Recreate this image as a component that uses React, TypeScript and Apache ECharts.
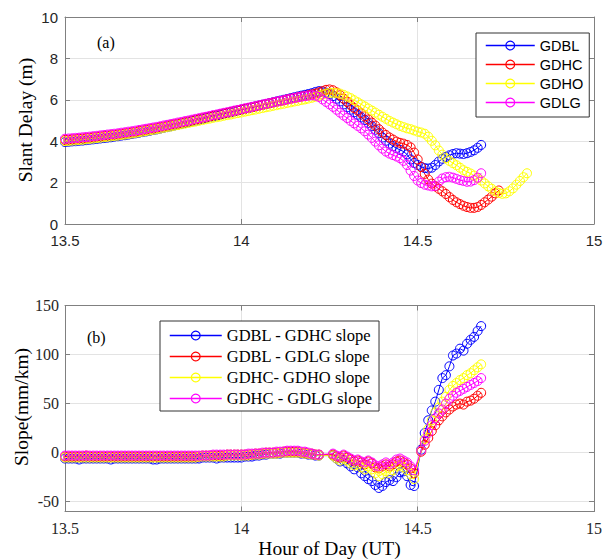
import React, { useEffect, useRef } from 'react';
import * as echarts from 'echarts';

// sampling grid (hours, UT), 0.01 h steps from 13.50
const HOURS: number[] = Array.from({ length: 132 }, (_, i) => Math.round((13.5 + i * 0.01) * 100) / 100);

const X_MIN = 13.5;
const X_MAX = 15;
const X_STEP = 0.5;

// ---------- (a) Slant delay (m) ----------
const TOP_NAMES = ['GDBL', 'GDHC', 'GDHO', 'GDLG'];

const GDBL = [
  3.96, 3.97, 3.99, 4.0, 4.02, 4.03, 4.05, 4.07, 4.09, 4.11,
  4.13, 4.15, 4.17, 4.19, 4.22, 4.24, 4.27, 4.29, 4.32, 4.35,
  4.38, 4.41, 4.44, 4.47, 4.5, 4.54, 4.57, 4.61, 4.65, 4.68,
  4.72, 4.76, 4.8, 4.84, 4.88, 4.92, 4.96, 5.0, 5.04, 5.08,
  5.12, 5.16, 5.2, 5.24, 5.28, 5.32, 5.36, 5.4, 5.44, 5.48,
  5.52, 5.56, 5.6, 5.64, 5.68, 5.72, 5.76, 5.8, 5.84, 5.88,
  5.92, 5.96, 6.0, 6.04, 6.08, 6.12, 6.16, 6.2, 6.24, 6.28,
  6.32, 6.38, 6.42, 6.4, 6.35, 6.28, 6.18, 6.05, 5.92, 5.78,
  5.64, 5.52, 5.4, 5.28, 5.15, 5.02, 4.88, 4.72, 4.55, 4.38,
  4.18, 4.02, 3.88, 3.76, 3.66, 3.58, 3.5, 3.36, 3.12, 2.95,
  2.85, 2.76, 2.7, 2.68, 2.72, 2.85, 3.02, 3.15, 3.24, 3.32,
  3.38, 3.42, 3.4, 3.38, 3.42, 3.48, 3.56, 3.68, 3.82,
];

const GDHC = [
  4.06, 4.07, 4.09, 4.1, 4.12, 4.13, 4.15, 4.17, 4.19, 4.21,
  4.23, 4.25, 4.27, 4.29, 4.31, 4.33, 4.36, 4.38, 4.41, 4.43,
  4.46, 4.49, 4.52, 4.55, 4.58, 4.61, 4.64, 4.68, 4.71, 4.75,
  4.78, 4.82, 4.85, 4.89, 4.92, 4.96, 5.0, 5.04, 5.07, 5.11,
  5.15, 5.19, 5.22, 5.26, 5.3, 5.34, 5.37, 5.41, 5.45, 5.49,
  5.52, 5.56, 5.6, 5.64, 5.67, 5.71, 5.75, 5.79, 5.83, 5.86,
  5.9, 5.94, 5.97, 6.01, 6.05, 6.08, 6.12, 6.15, 6.19, 6.22,
  6.26, 6.3, 6.36, 6.42, 6.48, 6.5, 6.46, 6.36, 6.22, 6.06,
  5.9, 5.74, 5.6, 5.48, 5.35, 5.2, 5.05, 4.9, 4.75, 4.58,
  4.42, 4.3, 4.18, 4.08, 3.98, 3.92, 3.88, 3.82, 3.7, 3.45,
  3.12, 2.75, 2.42, 2.15, 1.95, 1.82, 1.7, 1.58, 1.45, 1.3,
  1.16, 1.05, 0.96, 0.88, 0.82, 0.78, 0.78, 0.82, 0.92, 1.05,
  1.18, 1.32, 1.48, 1.62,
];

const GDHO = [
  4.0, 4.01, 4.03, 4.04, 4.06, 4.07, 4.09, 4.11, 4.13, 4.15,
  4.17, 4.19, 4.21, 4.23, 4.25, 4.27, 4.3, 4.32, 4.35, 4.37,
  4.4, 4.43, 4.46, 4.49, 4.52, 4.55, 4.58, 4.61, 4.65, 4.68,
  4.71, 4.75, 4.78, 4.82, 4.85, 4.88, 4.92, 4.95, 4.99, 5.02,
  5.06, 5.09, 5.13, 5.16, 5.19, 5.23, 5.26, 5.29, 5.33, 5.36,
  5.39, 5.43, 5.46, 5.5, 5.53, 5.57, 5.6, 5.64, 5.67, 5.71,
  5.74, 5.78, 5.81, 5.85, 5.88, 5.92, 5.95, 5.99, 6.02, 6.06,
  6.1, 6.15, 6.2, 6.25, 6.3, 6.33, 6.34, 6.33, 6.3, 6.24,
  6.16, 6.08, 5.98, 5.88, 5.78, 5.68, 5.58, 5.48, 5.38, 5.28,
  5.18, 5.08, 4.98, 4.9, 4.82, 4.74, 4.68, 4.62, 4.58, 4.52,
  4.46, 4.42, 4.36, 4.22, 4.02, 3.8, 3.55, 3.35, 3.18, 3.05,
  2.94, 2.84, 2.72, 2.6, 2.52, 2.44, 2.34, 2.22, 2.1, 1.96,
  1.82, 1.7, 1.58, 1.5, 1.46, 1.48, 1.58, 1.72, 1.9, 2.08,
  2.26, 2.45,
];

const GDLG = [
  4.12, 4.13, 4.14, 4.16, 4.17, 4.19, 4.2, 4.22, 4.24, 4.26,
  4.28, 4.3, 4.32, 4.34, 4.36, 4.38, 4.41, 4.43, 4.46, 4.48,
  4.51, 4.54, 4.57, 4.6, 4.63, 4.66, 4.69, 4.72, 4.76, 4.79,
  4.83, 4.86, 4.9, 4.93, 4.97, 5.0, 5.04, 5.08, 5.11, 5.15,
  5.18, 5.22, 5.26, 5.29, 5.33, 5.37, 5.4, 5.44, 5.48, 5.51,
  5.55, 5.59, 5.62, 5.66, 5.7, 5.73, 5.77, 5.81, 5.84, 5.88,
  5.91, 5.95, 5.98, 6.02, 6.05, 6.09, 6.12, 6.15, 6.18, 6.2,
  6.22, 6.2, 6.14, 6.02, 5.9, 5.78, 5.66, 5.52, 5.38, 5.24,
  5.12, 4.98, 4.86, 4.74, 4.62, 4.48, 4.32, 4.16, 3.98, 3.8,
  3.64, 3.5, 3.4, 3.33, 3.26, 3.18, 3.05, 2.85, 2.58, 2.32,
  2.1, 1.98, 1.9, 1.86, 1.82, 1.84, 2.05, 2.2, 2.26, 2.28,
  2.24, 2.18, 2.12, 2.08, 2.04, 2.05, 2.12, 2.24, 2.45,
];

// ---------- (b) Slope (mm/km) ----------
const SLOPE_NAMES = ['GDBL - GDHC slope', 'GDBL - GDLG slope', 'GDHC- GDHO slope', 'GDHC - GDLG slope'];

const S_BL_HC = [
  -6, -6, -6, -6, -7, -6, -6, -6, -6, -6,
  -6, -6, -6, -7, -6, -6, -6, -6, -6, -6,
  -6, -6, -6, -6, -6, -7, -7, -6, -6, -6,
  -6, -6, -6, -6, -6, -6, -6, -6, -6, -5,
  -5, -5, -5, -6, -5, -5, -5, -5, -5, -5,
  -5, -4, -4, -4, -3, -3, -2, -2, -1, -1,
  -1, -1, 0, 0, 0, 0, 0, -1, -1, -2,
  -2, -3, -3, null, null, null, -3, -6, -9, -8,
  -11, -14, -17, -15, -21, -24, -27, -29, -33, -36,
  -34, -30, -28, -29, -25, -20, -19, -24, -33, -34,
  null, 3, 20, 33, 43, 52, 64, 76, 79, 88,
  99, 101, 106, 104, 111, 115, 118, 124, 129,
];

const S_BL_LG = [
  -4, -4, -4, -4, -4, -4, -3, -4, -4, -4,
  -4, -4, -4, -4, -4, -4, -4, -4, -4, -4,
  -4, -4, -4, -4, -4, -4, -4, -4, -4, -4,
  -4, -4, -4, -4, -4, -4, -4, -4, -4, -3,
  -3, -3, -3, -3, -3, -3, -2, -2, -2, -2,
  -2, -2, -2, -2, -1, -1, -1, 0, 0, 0,
  0, 0, 1, 1, 1, 1, 1, 0, 0, -1,
  -1, -2, -2, null, null, null, -2, -4, -5, -3,
  -5, -7, -9, -8, -10, -12, -9, -11, -15, -16,
  -14, -12, -14, -12, -9, -8, -10, -12, -16, -21,
  null, 1, 8, 15, 22, 28, 33, 37, 41, 44,
  47, 49, 50, 49, 52, 53, 55, 58, 61,
];

const S_HC_HO = [
  -5, -5, -5, -5, -5, -5, -5, -5, -5, -5,
  -5, -5, -5, -5, -5, -5, -5, -5, -5, -5,
  -5, -5, -5, -5, -5, -5, -5, -5, -5, -5,
  -5, -5, -5, -5, -5, -5, -5, -5, -4, -4,
  -4, -4, -4, -4, -4, -4, -3, -3, -3, -3,
  -3, -3, -3, -2, -2, -2, -1, -1, -1, -1,
  -1, 0, 0, 0, 0, 0, 0, 0, -1, -1,
  -2, -2, -3, null, null, null, -3, -6, -8, -6,
  -8, -11, -13, -12, -15, -17, -14, -17, -21, -24,
  -22, -19, -21, -18, -14, -13, -15, -18, -22, -27,
  null, 2, 14, 24, 33, 41, 46, 52, 57, 64,
  68, 71, 74, 76, 79, 81, 84, 87, 90,
];

const S_HC_LG = [
  -3, -3, -3, -3, -3, -3, -3, -3, -3, -3,
  -3, -3, -3, -3, -3, -3, -3, -3, -3, -3,
  -3, -3, -3, -3, -3, -3, -3, -3, -3, -3,
  -3, -3, -3, -3, -3, -3, -3, -3, -3, -3,
  -3, -3, -2, -2, -2, -2, -2, -2, -2, -2,
  -2, -2, -1, -1, -1, -1, 0, 0, 0, 0,
  1, 1, 1, 2, 2, 2, 2, 1, 1, 0,
  -1, -2, -2, null, null, null, -1, -3, -4, -2,
  -4, -6, -8, -7, -9, -10, -8, -10, -13, -14,
  -12, -10, -12, -10, -7, -6, -8, -10, -14, -18,
  null, 2, 12, 20, 28, 35, 40, 44, 50, 55,
  58, 61, 63, 65, 67, 69, 71, 73, 76,
];

const COLORS = ['#0000ff', '#ff0000', '#ffff00', '#ff00ff'];

const SANS = '"Liberation Sans", Arial, sans-serif';
const SERIF = '"Liberation Serif", "Times New Roman", serif';
const AX = '#808080';
const GRIDC = '#e3e3e3';
const TXT = '#262626';

const pairs = (vals: (number | null)[]) =>
  vals.map((v, i) => [HOURS[i], v] as [number, number | null]).filter((p) => p[1] !== null);

const mkSeries = (name: string, vals: (number | null)[], color: string, axis: number) => ({
  type: 'line',
  name,
  xAxisIndex: axis,
  yAxisIndex: axis,
  data: pairs(vals),
  symbol: 'circle',
  symbolSize: 9,
  showSymbol: true,
  showAllSymbol: true,
  itemStyle: { color: 'rgba(0,0,0,0)', borderColor: color, borderWidth: 1 },
  lineStyle: { color, width: 1 },
  emphasis: { disabled: true },
  silent: true,
});

const legendItems = (names: string[]) =>
  names.map((name, i) => ({
    name,
    lineStyle: { color: COLORS[i], width: 1.5, opacity: 1 },
    itemStyle: { color: 'rgba(0,0,0,0)', borderColor: COLORS[i], borderWidth: 1.2 },
  }));

const frameAxisX = (gridIndex: number, position: 'top' | 'bottom', labels: any) => ({
  type: 'value',
  gridIndex,
  position,
  min: X_MIN,
  max: X_MAX,
  interval: X_STEP,
  axisLine: { show: true, onZero: false, lineStyle: { color: AX, width: 1 } },
  axisTick: { show: true, inside: true, length: 5, lineStyle: { color: AX } },
  axisLabel: labels,
  splitLine: { show: position === 'bottom', lineStyle: { color: GRIDC, width: 1 } },
});

export default function App() {
  const ref = useRef<HTMLDivElement>(null);

  useEffect(() => {
    if (!ref.current) return;
    const chart = echarts.init(ref.current, null, { renderer: 'svg' });

    const topLabel = { show: true, margin: 9, fontFamily: SANS, fontSize: 15, color: TXT };
    const botLabel = { show: true, margin: 9, fontFamily: SERIF, fontSize: 16, color: TXT };

    const yFrame = (gridIndex: number, position: 'left' | 'right', extra: any, labels: any) => ({
      type: 'value',
      gridIndex,
      position,
      ...extra,
      axisLine: { show: true, onZero: false, lineStyle: { color: AX, width: 1 } },
      axisTick: { show: true, inside: true, length: 5, lineStyle: { color: AX } },
      axisLabel: labels,
      splitLine: { show: position === 'left', lineStyle: { color: GRIDC, width: 1 } },
    });

    const legendCommon = {
      orient: 'vertical',
      backgroundColor: '#fff',
      borderColor: '#333',
      borderWidth: 1,
      borderRadius: 0,
      selectedMode: false,
      itemGap: 4,
    };

    chart.setOption({
      animation: false,
      backgroundColor: '#fff',
      grid: [
        { left: 65, top: 17, width: 529, height: 207, outerBoundsMode: 'none', containLabel: false },
        { left: 65, top: 305.5, width: 529, height: 206, outerBoundsMode: 'none', containLabel: false },
      ],
      xAxis: [
        frameAxisX(0, 'bottom', topLabel),
        frameAxisX(0, 'top', { show: false }),
        frameAxisX(1, 'bottom', botLabel),
        frameAxisX(1, 'top', { show: false }),
      ],
      yAxis: [
        yFrame(0, 'left', { min: 0, max: 10, interval: 2 }, { show: true, margin: 7, fontFamily: SANS, fontSize: 15, color: TXT }),
        yFrame(0, 'right', { min: 0, max: 10, interval: 2 }, { show: false }),
        yFrame(1, 'left', { min: -60, max: 150, splitNumber: 5 }, { show: true, margin: 6, fontFamily: SERIF, fontSize: 16, color: TXT, showMinLabel: false }),
        yFrame(1, 'right', { min: -60, max: 150, splitNumber: 5 }, { show: false }),
      ],
      legend: [
        {
          ...legendCommon,
          data: legendItems(TOP_NAMES),
          left: 476,
          top: 33,
          itemWidth: 49,
          itemHeight: 11,
          padding: [5, 6, 7, 9],
          textStyle: { fontFamily: SANS, fontSize: 14.5, color: '#000' },
        },
        {
          ...legendCommon,
          data: legendItems(SLOPE_NAMES),
          left: 160,
          top: 321,
          itemWidth: 52,
          itemHeight: 11,
          padding: [6, 7, 4, 9],
          textStyle: { fontFamily: SERIF, fontSize: 16.5, color: '#000' },
        },
      ],
      series: [
        mkSeries(TOP_NAMES[0], GDBL, COLORS[0], 0),
        mkSeries(TOP_NAMES[1], GDHC, COLORS[1], 0),
        mkSeries(TOP_NAMES[2], GDHO, COLORS[2], 0),
        mkSeries(TOP_NAMES[3], GDLG, COLORS[3], 0),
        mkSeries(SLOPE_NAMES[0], S_BL_HC, COLORS[0], 2),
        mkSeries(SLOPE_NAMES[1], S_BL_LG, COLORS[1], 2),
        mkSeries(SLOPE_NAMES[2], S_HC_HO, COLORS[2], 2),
        mkSeries(SLOPE_NAMES[3], S_HC_LG, COLORS[3], 2),
      ],
      graphic: [
        {
          type: 'text', x: 25, y: 120, rotation: Math.PI / 2,
          style: { text: 'Slant Delay (m)', fontFamily: SERIF, fontSize: 19.5, fill: '#000', align: 'center', verticalAlign: 'middle' },
        },
        {
          type: 'text', x: 21, y: 407, rotation: Math.PI / 2,
          style: { text: 'Slope(mm/km)', fontFamily: SERIF, fontSize: 19.5, fill: '#000', align: 'center', verticalAlign: 'middle' },
        },
        {
          type: 'text', x: 329.5, y: 548,
          style: { text: 'Hour of Day (UT)', fontFamily: SERIF, fontSize: 19.5, fill: '#000', align: 'center', verticalAlign: 'middle' },
        },
        {
          type: 'text', x: 97, y: 42,
          style: { text: '(a)', fontFamily: SERIF, fontSize: 16, fill: '#000', align: 'left', verticalAlign: 'middle' },
        },
        {
          type: 'text', x: 87, y: 337,
          style: { text: '(b)', fontFamily: SERIF, fontSize: 16, fill: '#000', align: 'left', verticalAlign: 'middle' },
        },
      ],
    });

    return () => chart.dispose();
  }, []);

  return (
    <div
      ref={ref}
      style={{ position: 'fixed', left: 0, top: 0, width: 603, height: 560, background: '#fff' }}
    />
  );
}
